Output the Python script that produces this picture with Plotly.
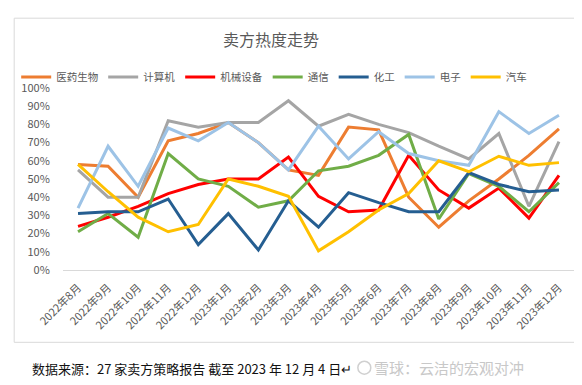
import plotly.graph_objects as go

categories = ["2022年8月", "2022年9月", "2022年10月", "2022年11月", "2022年12月",
              "2023年1月", "2023年2月", "2023年3月", "2023年4月", "2023年5月",
              "2023年6月", "2023年7月", "2023年8月", "2023年9月", "2023年10月",
              "2023年11月", "2023年12月"]

yiyao = [0.58, 0.57, 0.40, 0.71, 0.75, 0.81, 0.70, 0.55, 0.52, 0.785, 0.77, 0.40, 0.235, 0.38, 0.50, 0.63, 0.775]
jisuanji = [0.55, 0.40, 0.40, 0.82, 0.785, 0.81, 0.81, 0.93, 0.79, 0.855, 0.80, 0.755, 0.68, 0.61, 0.75, 0.35, 0.705]
jixie = [0.24, 0.29, 0.35, 0.42, 0.47, 0.50, 0.50, 0.62, 0.405, 0.32, 0.33, 0.63, 0.44, 0.34, 0.45, 0.285, 0.52]
tongxin = [0.21, 0.31, 0.18, 0.64, 0.50, 0.46, 0.345, 0.38, 0.545, 0.57, 0.63, 0.745, 0.28, 0.53, 0.46, 0.32, 0.48]
huagong = [0.31, 0.32, 0.32, 0.39, 0.14, 0.31, 0.11, 0.38, 0.235, 0.425, 0.37, 0.32, 0.32, 0.535, 0.47, 0.43, 0.44]
dianzi = [0.34, 0.68, 0.46, 0.78, 0.71, 0.81, 0.70, 0.55, 0.79, 0.61, 0.76, 0.64, 0.60, 0.575, 0.87, 0.75, 0.85]
qiche = [0.58, 0.43, 0.29, 0.21, 0.25, 0.50, 0.46, 0.405, 0.105, 0.21, 0.33, 0.42, 0.60, 0.54, 0.625, 0.575, 0.59]

series_names = ["医药生物", "计算机", "机械设备", "通信", "化工", "电子", "汽车"]
series_values = [yiyao, jisuanji, jixie, tongxin, huagong, dianzi, qiche]
series_colors = ["#ED7D31", "#A5A5A5", "#FF0000", "#70AD47", "#255E91", "#9DC3E6", "#FFC000"]

y_tickvals = [i / 10 for i in range(11)]

FONT = "Noto Sans CJK SC"
GRAY = "#595959"

fig = go.Figure()
for name, vals, col in zip(series_names, series_values, series_colors):
    fig.add_trace(go.Scatter(x=categories, y=vals, name=name, mode="lines",
                             line=dict(color=col, width=3)))

# page body has an 8px margin, so the figure is made 8px smaller and shifted
OFF = 8
W, H = 582 - OFF, 385 - OFF
L = 61 - OFF
T = 88 - OFF
R = W - (574 - OFF)
B = H - (270.5 - OFF)
pw = W - L - R
ph = H - T - B

def px_x(px):
    return (px - OFF - L) / pw

def px_y(py):
    return (H - B - (py - OFF)) / ph

fig.update_layout(
    width=W, height=H,
    margin=dict(l=L, r=R, t=T, b=B, pad=0),
    paper_bgcolor="white", plot_bgcolor="white",
    font=dict(family=FONT, color=GRAY, size=11),
    title=dict(text="卖方热度走势", x=(271 - OFF) / W, xref="container", xanchor="center",
               y=1 - (40 - OFF) / H, yref="container", yanchor="middle",
               font=dict(size=16, color=GRAY, family=FONT)),
    legend=dict(orientation="h", x=px_x(14), xanchor="left",
                y=px_y(77), yanchor="middle", font=dict(size=10.5, color=GRAY),
                itemwidth=30, bgcolor="rgba(0,0,0,0)"),
    showlegend=True,
    xaxis=dict(type="category", range=[-0.5, len(categories) - 0.5],
               showgrid=False, showline=True, linecolor="#D9D9D9", linewidth=1,
               tickangle=-45, ticks="outside", ticklen=6, tickcolor="rgba(0,0,0,0)",
               tickfont=dict(size=11, color=GRAY), zeroline=False),
    yaxis=dict(range=[0, 1], tickvals=y_tickvals, tickformat=".0%",
               showgrid=False, zeroline=False, showline=False,
               ticks="outside", ticklen=10, tickcolor="rgba(0,0,0,0)",
               tickfont=dict(size=11, color=GRAY)),
    shapes=[
        dict(type="rect", xref="paper", yref="paper",
             x0=px_x(12), x1=px_x(600), y0=px_y(343), y1=px_y(18),
             line=dict(color="#D9D9D9", width=1), fillcolor="rgba(0,0,0,0)", layer="below"),
        dict(type="circle", xref="paper", yref="paper",
             x0=px_x(357), x1=px_x(370), y0=px_y(375), y1=px_y(362),
             line=dict(color="#D0D0D0", width=1.5)),
    ],
    annotations=[
        dict(text="数据来源：27 家卖方策略报告 截至 2023 年 12 月 4 日↵", xref="paper", yref="paper",
             x=px_x(28), y=px_y(369), xanchor="left", yanchor="middle", showarrow=False,
             font=dict(size=13, color="#111111", family=FONT)),
        dict(text="雪球：云洁的宏观对冲", xref="paper", yref="paper",
             x=px_x(371), y=px_y(368), xanchor="left", yanchor="middle", showarrow=False,
             font=dict(size=15, color="#C8C8C8", family=FONT)),
    ],
)

fig.write_html("out.html")
